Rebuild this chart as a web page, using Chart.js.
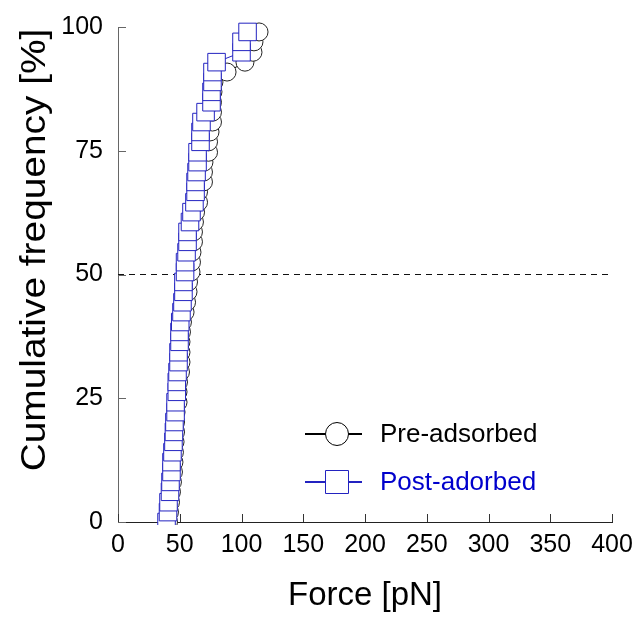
<!DOCTYPE html>
<html lang="en">
<head>
  <meta charset="UTF-8" />
  <title>Cumulative frequency</title>
  <script src="https://cdn.jsdelivr.net/npm/chart.js"></script>
  <style>
    body { margin: 0; background: #fff; }
    #wrap { width: 638px; height: 617px; }
  </style>
</head>
<body>
<div id="wrap"><canvas id="cumChart" width="638" height="617"></canvas></div>

<script>
  // cumulative frequency [%], same for both series
  const cumFreq = [0, 2.0, 4.0, 6.1, 8.1, 10.1, 12.1, 14.1, 16.2, 18.2, 20.2, 22.2, 24.2, 26.3, 28.3, 30.3, 32.3, 34.3, 36.4, 38.4,
    40.4, 42.4, 44.4, 46.5, 48.5, 50.5, 52.5, 54.5, 56.6, 58.6, 60.6, 62.6, 64.6, 66.7, 68.7, 70.7, 72.7, 74.7, 76.8, 78.8,
    80.8, 82.8, 84.8, 86.9, 88.9, 90.9, 92.9, 94.9, 97.0, 99.0];

  // force [pN]
  const preForce = [40.9, 41.7, 42.5, 43.3, 44.1, 44.9, 45.3, 45.7, 46.2, 46.6, 46.6, 47.0, 48.6, 48.6, 49.0, 50.6, 51.0, 51.0, 51.0, 51.4,
    52.2, 54.3, 55.5, 56.7, 57.1, 59.1, 59.5, 59.9, 61.1, 61.1, 61.9, 62.8, 65.2, 65.2, 69.2, 69.2, 69.6, 73.3, 73.3, 74.5,
    76.5, 76.5, 76.5, 76.9, 77.7, 88.3, 102.8, 109.3, 110.1, 114.2];
  const postForce = [39.3, 40.5, 40.9, 42.1, 42.5, 43.3, 43.3, 44.1, 44.9, 45.3, 45.7, 46.6, 46.6, 47.6, 47.6, 48.2, 49.0, 49.0, 49.8, 49.8,
    50.4, 51.4, 52.2, 53.0, 53.0, 54.3, 54.3, 55.5, 56.3, 56.3, 58.3, 59.5, 61.9, 62.8, 62.8, 63.6, 64.4, 64.4, 66.8, 66.8,
    67.6, 70.9, 75.7, 75.7, 76.5, 76.5, 79.8, 100, 100, 104.9];

  const xTicks = [0, 50, 100, 150, 200, 250, 300, 350, 400];
  const yTicks = [0, 25, 50, 75, 100];
  const medianLine = 50;
  const yTitle = 'Cumulative frequency [%]';

  const BLUE = '#2323c0';
  const BLUE_TXT = '#0000cc';
  const FONT = '"Liberation Sans", Arial, sans-serif';

  const pts = (xs, ys) => xs.map((x, i) => ({ x: x, y: ys[i] }));

  // inward tick marks, y title (a bit stretched like the original) and legend inside plot
  const extras = {
    id: 'extras',
    afterDraw(chart) {
      const ctx = chart.ctx;
      const xs = chart.scales.x, ys = chart.scales.y;
      const area = chart.chartArea;
      ctx.save();
      ctx.lineWidth = 1;
      ctx.strokeStyle = '#333';
      xTicks.forEach(v => {
        const px = Math.round(xs.getPixelForValue(v)) + 0.5;
        ctx.beginPath();
        ctx.moveTo(px, area.bottom);
        ctx.lineTo(px, area.bottom - 8);
        ctx.stroke();
      });
      ctx.strokeStyle = '#666';
      yTicks.forEach(v => {
        const py = Math.round(ys.getPixelForValue(v)) + 0.5;
        ctx.beginPath();
        ctx.moveTo(area.left, py);
        ctx.lineTo(area.left + 8, py);
        ctx.stroke();
      });

      ctx.save();
      ctx.translate(35, 250);
      ctx.rotate(-Math.PI / 2);
      ctx.scale(1.11, 1);
      ctx.fillStyle = '#000';
      ctx.font = '35px ' + FONT;
      ctx.textAlign = 'center';
      ctx.textBaseline = 'middle';
      ctx.fillText(yTitle, 0, 0);
      ctx.restore();

      // legend
      const items = [
        { label: 'Pre-adsorbed', color: '#000', text: '#000', shape: 'circle', y: 434 },
        { label: 'Post-adorbed', color: BLUE, text: BLUE_TXT, shape: 'rect', y: 482 }
      ];
      items.forEach(it => {
        ctx.strokeStyle = it.color;
        ctx.lineWidth = 2;
        ctx.beginPath();
        ctx.moveTo(305, it.y);
        ctx.lineTo(362, it.y);
        ctx.stroke();
        ctx.lineWidth = 1;
        ctx.fillStyle = '#fff';
        ctx.beginPath();
        if (it.shape === 'circle') {
          ctx.arc(337, it.y, 11.5, 0, Math.PI * 2);
        } else {
          ctx.rect(325.5, it.y - 11.5, 23, 23);
        }
        ctx.fill();
        ctx.stroke();
        ctx.fillStyle = it.text;
        ctx.font = '26px ' + FONT;
        ctx.textBaseline = 'middle';
        ctx.fillText(it.label, 380, it.y + 1);
      });
      ctx.restore();
    }
  };

  const ctx = document.getElementById('cumChart').getContext('2d');
  new Chart(ctx, {
    type: 'scatter',
    data: {
      datasets: [
        {
          label: 'Post-adorbed',
          data: pts(postForce, cumFreq),
          showLine: true,
          borderColor: BLUE,
          borderWidth: 1,
          pointStyle: 'rect',
          pointRadius: 12.4,
          pointBorderColor: BLUE,
          pointBackgroundColor: '#fff',
          pointBorderWidth: 1,
          clip: { left: 15, top: 10, right: 15, bottom: 3 }
        },
        {
          label: 'Pre-adsorbed',
          data: pts(preForce, cumFreq),
          showLine: true,
          borderColor: '#000',
          borderWidth: 1,
          pointStyle: 'circle',
          pointRadius: 9,
          pointBorderColor: '#222',
          pointBackgroundColor: '#fff',
          pointBorderWidth: 1,
          clip: { left: 15, top: 10, right: 15, bottom: 3 }
        },
        {
          label: 'median',
          data: [{ x: 0, y: medianLine }, { x: 400, y: medianLine }],
          showLine: true,
          borderColor: '#111',
          borderWidth: 1,
          borderDash: [6, 5],
          pointRadius: 0
        }
      ]
    },
    options: {
      responsive: false,
      animation: false,
      layout: { padding: { left: 0, top: 27, right: 26, bottom: 0 } },
      plugins: { legend: { display: false }, tooltip: { enabled: false } },
      scales: {
        x: {
          type: 'linear',
          min: 0, max: 400,
          afterFit: s => { s.height = 95; s.paddingLeft = 0; s.paddingRight = 0; },
          afterBuildTicks: s => { s.ticks = xTicks.map(v => ({ value: v })); },
          grid: { display: false, drawTicks: false },
          border: { display: true, color: '#222', width: 1 },
          ticks: { padding: 8, color: '#000', font: { family: FONT, size: 25 } },
          title: {
            display: true, text: 'Force [pN]', color: '#000',
            font: { family: FONT, size: 33 },
            padding: { top: 0, bottom: 1 }
          }
        },
        y: {
          type: 'linear',
          min: 0, max: 100,
          afterFit: s => { s.width = 118; s.paddingTop = 0; s.paddingBottom = 0; },
          afterBuildTicks: s => { s.ticks = yTicks.map(v => ({ value: v })); },
          grid: { display: false, drawTicks: false },
          border: { display: true, color: '#666', width: 1 },
          ticks: { padding: 15, color: '#000', font: { family: FONT, size: 25 } },
          title: { display: false }
        }
      }
    },
    plugins: [extras]
  });
</script>
</body>
</html>
